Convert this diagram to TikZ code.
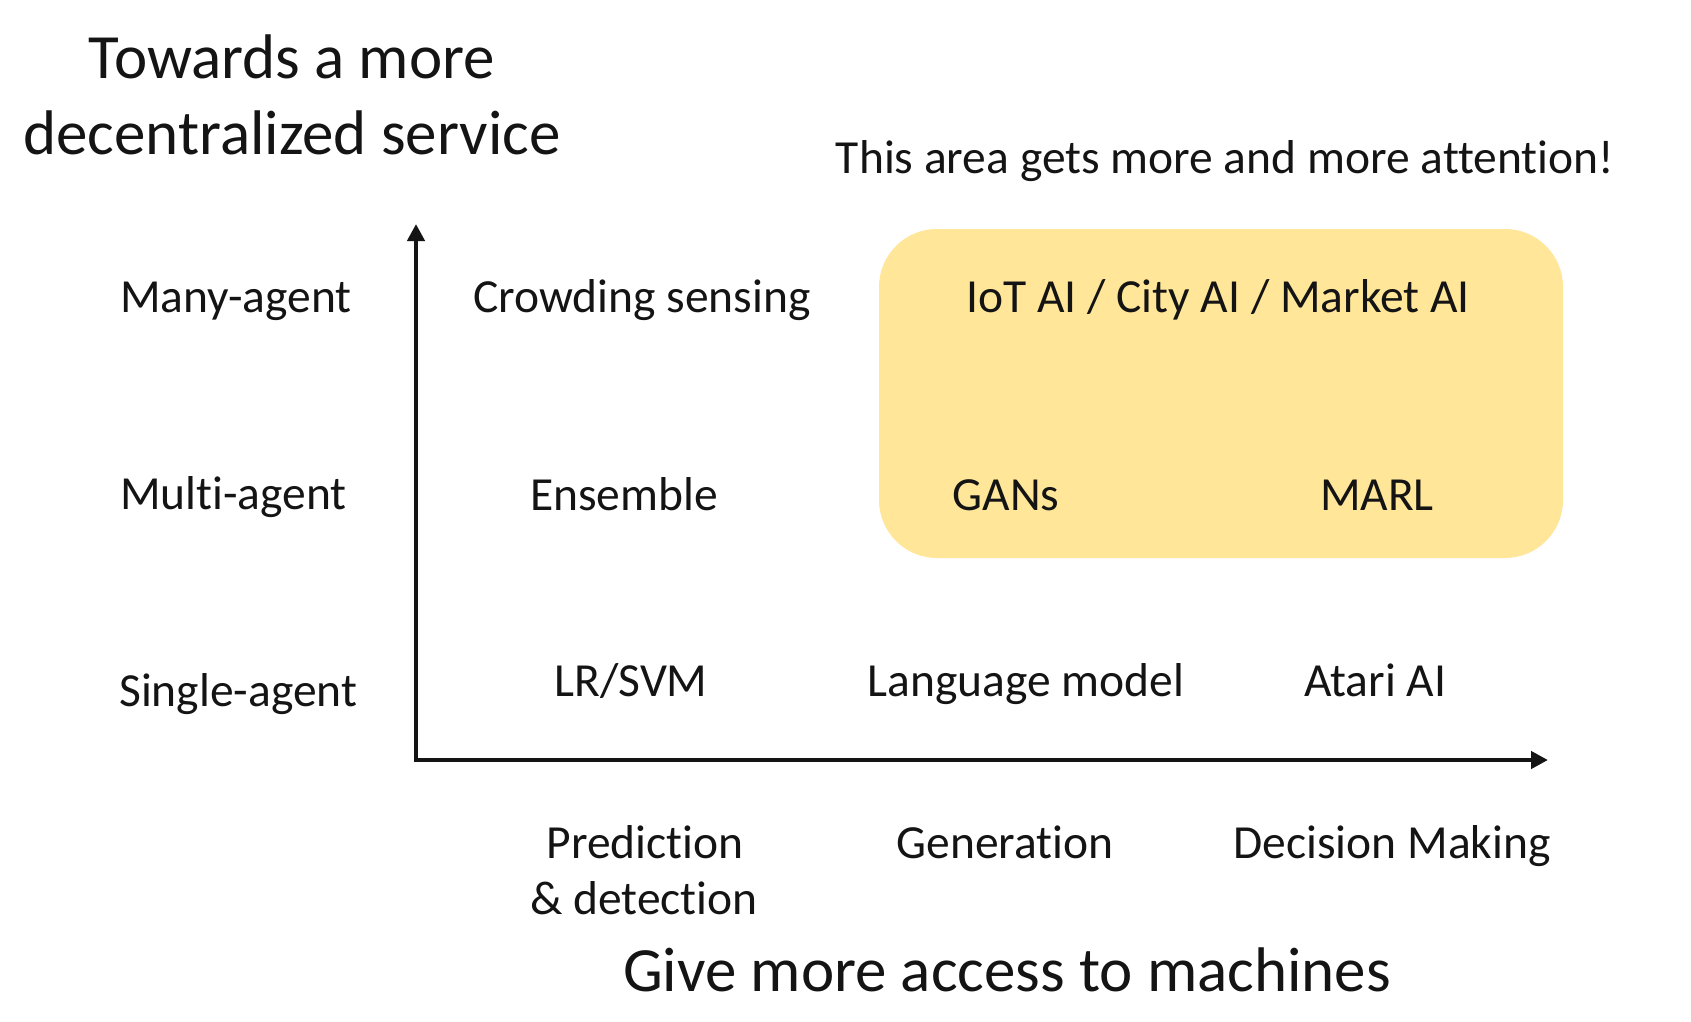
\documentclass[tikz,border=0pt]{standalone}
\usepackage{fontspec}
\setmainfont{Carlito}[Ligatures={NoCommon}]
\usetikzlibrary{arrows.meta}
\definecolor{boxgold}{RGB}{255,230,153}
\definecolor{txt}{RGB}{20,20,20}
\tikzset{
  body/.style={anchor=base, inner sep=0pt, text=txt, font=\fontsize{47.5}{57}\selectfont},
  big/.style={anchor=base, inner sep=0pt, text=txt, font=\fontsize{63}{76}\selectfont, align=center},
  axisline/.style={line width=4.5pt, draw=txt, -{Triangle[length=17pt,width=17pt]}},
  goldbox/.style={fill=boxgold, draw=none, rounded corners=58pt}
}
\begin{document}
\begin{tikzpicture}[x=1pt,y=-1pt]
\useasboundingbox (0,0) rectangle (1691,1021);
\fill[white] (0,0) rectangle (1691,1021);
% highlight box
\path[goldbox] (879,229) rectangle (1563,558);
% title
\node[big] (t1) at (292,78) {Towards a more};
\node[big] (t2) at (292,154) {decentralized service};
\node[body] (note) at (1225,173) {This area gets more and more attention!};
% axes
\coordinate (o) at (416,760);
\coordinate (ytip) at (416,224);
\coordinate (xtip) at (1548,760);
\draw[axisline] ([yshift=-2.25pt]o) -- (ytip);
\draw[axisline] ([xshift=-2.25pt]o) -- (xtip);
% row labels
\node[body, anchor=base west] (many) at (120,312) {Many-agent};
\node[body, anchor=base west] (multi) at (120,509) {Multi-agent};
\node[body, anchor=base west] (single) at (119,706) {Single-agent};
% cells
\node[body] (crowd) at (642,312) {Crowding sensing};
\node[body] (iot) at (1218,312) {IoT AI / City AI / Market AI};
\node[body] (ens) at (624,510) {Ensemble};
\node[body] (gan) at (1006,510) {GANs};
\node[body] (marl) at (1377,510) {MARL};
\node[body] (lr) at (631,696) {LR/SVM};
\node[body] (lang) at (1026,696) {Language model};
\node[body] (atari) at (1375,696) {Atari AI};
% column labels
\node[body] (pred1) at (645,858) {Prediction};
\node[body] (pred2) at (644,914) {\& detection};
\node[body] (gen) at (1005,858) {Generation};
\node[body] (dec) at (1392,858) {Decision Making};
\node[big] (xlab) at (1007,991) {Give more access to machines};
\end{tikzpicture}
\end{document}
